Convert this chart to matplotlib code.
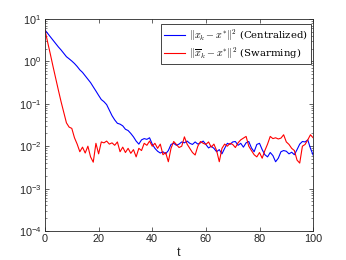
import matplotlib
matplotlib.use("Agg")
import matplotlib.pyplot as plt
import numpy as np
from matplotlib.ticker import LogLocator, NullFormatter, FixedLocator

t = list(range(101))

centralized = [
    5.50, 4.57, 3.80, 3.16, 2.63, 2.19, 1.86, 1.55, 1.29, 1.15,
    1.02, 0.891, 0.759, 0.631, 0.550, 0.457, 0.380, 0.316, 0.251, 0.200,
    0.158, 0.126, 0.112, 0.0955, 0.0708, 0.0525, 0.0417, 0.0347, 0.0331, 0.0302,
    0.0251, 0.0234, 0.0200, 0.0166, 0.0132, 0.0112, 0.0141, 0.0151, 0.0145, 0.0158,
    0.0112, 0.0089, 0.0076, 0.0069, 0.0074, 0.0066, 0.0079, 0.0110, 0.0117, 0.0105,
    0.0112, 0.0126, 0.0120, 0.0132, 0.0117, 0.0110, 0.0126, 0.0112, 0.0120, 0.0132,
    0.0110, 0.0091, 0.0100, 0.0089, 0.0074, 0.0083, 0.0066, 0.0089, 0.0117, 0.0110,
    0.0126, 0.0129, 0.0105, 0.0117, 0.0095, 0.0120, 0.0129, 0.0091, 0.0074, 0.0110,
    0.0117, 0.0083, 0.0063, 0.0056, 0.0071, 0.0060, 0.0043, 0.0052, 0.0074, 0.0079,
    0.0076, 0.0066, 0.0072, 0.0063, 0.0083, 0.0112, 0.0129, 0.0126, 0.0141, 0.0089,
    0.0062,
]

swarming = [
    5.50, 2.82, 1.48, 0.759, 0.398, 0.209, 0.112, 0.0631, 0.0355, 0.0282,
    0.0263, 0.0158, 0.0112, 0.0074, 0.0095, 0.0069, 0.0100, 0.0056, 0.0042, 0.0117,
    0.0066, 0.0126, 0.0120, 0.0132, 0.0112, 0.0120, 0.0105, 0.0126, 0.0074, 0.0095,
    0.0071, 0.0089, 0.0068, 0.0083, 0.0056, 0.0089, 0.0079, 0.0117, 0.0105, 0.0132,
    0.0100, 0.0117, 0.0089, 0.0112, 0.0063, 0.0071, 0.0043, 0.0089, 0.0129, 0.0110,
    0.0093, 0.0100, 0.0166, 0.0112, 0.0089, 0.0071, 0.0062, 0.0100, 0.0129, 0.0117,
    0.0110, 0.0126, 0.0095, 0.0112, 0.0079, 0.0043, 0.0089, 0.0112, 0.0100, 0.0117,
    0.0110, 0.0093, 0.0120, 0.0141, 0.0155, 0.0170, 0.0100, 0.0079, 0.0063, 0.0056,
    0.0071, 0.0052, 0.0079, 0.0112, 0.0170, 0.0151, 0.0158, 0.0148, 0.0155, 0.0186,
    0.0126, 0.0110, 0.0089, 0.0079, 0.0047, 0.0040, 0.0100, 0.0110, 0.0141, 0.0186,
    0.0158,
]

labels = [r"$\|x_k - x^{*}\|^2$ (Centralized)", r"$\|\overline{x}_k - x^{*}\|^2$ (Swarming)"]
xticks = [0, 20, 40, 60, 80, 100]

plt.rcParams['font.family'] = ['Liberation Sans', 'DejaVu Sans']
plt.rcParams['mathtext.fontset'] = 'cm'

fig = plt.figure(figsize=(3.46, 2.60), dpi=100)
ax = fig.add_axes([0.130, 0.1115, 0.775, 0.8155])

ax.plot(t, centralized, color=(0, 0, 1), lw=0.8, label=labels[0])
ax.plot(t, swarming, color=(1, 0, 0), lw=0.8, label=labels[1])

ax.set_yscale('log')
ax.set_xlim(0, 100)
ax.set_ylim(1e-4, 1e1)
ax.xaxis.set_major_locator(FixedLocator(xticks))
ax.yaxis.set_major_locator(LogLocator(base=10, numticks=10))
ax.yaxis.set_minor_locator(LogLocator(base=10, subs=np.arange(2, 10), numticks=10))
ax.yaxis.set_minor_formatter(NullFormatter())

ax.tick_params(which='both', direction='in', top=True, right=True, labelsize=7.8, colors='#262626', pad=2.5)
ax.tick_params(which='major', length=3, width=0.5)
ax.tick_params(which='minor', length=1.7, width=0.4)
for s in ax.spines.values():
    s.set_linewidth(0.6)
    s.set_color('#262626')

ax.set_xlabel('t', fontsize=9, labelpad=1.5, color='#262626')

leg = ax.legend(loc='upper right', bbox_to_anchor=(0.993, 0.977), borderaxespad=0,
                frameon=True, fancybox=False,
                edgecolor='#262626', framealpha=1, borderpad=0.35, labelspacing=0.25,
                handlelength=2.0, handletextpad=0.4,
                prop={'family': 'DejaVu Serif', 'size': 7.3})
leg.get_frame().set_linewidth(0.6)

fig.savefig('out.png', dpi=100)
